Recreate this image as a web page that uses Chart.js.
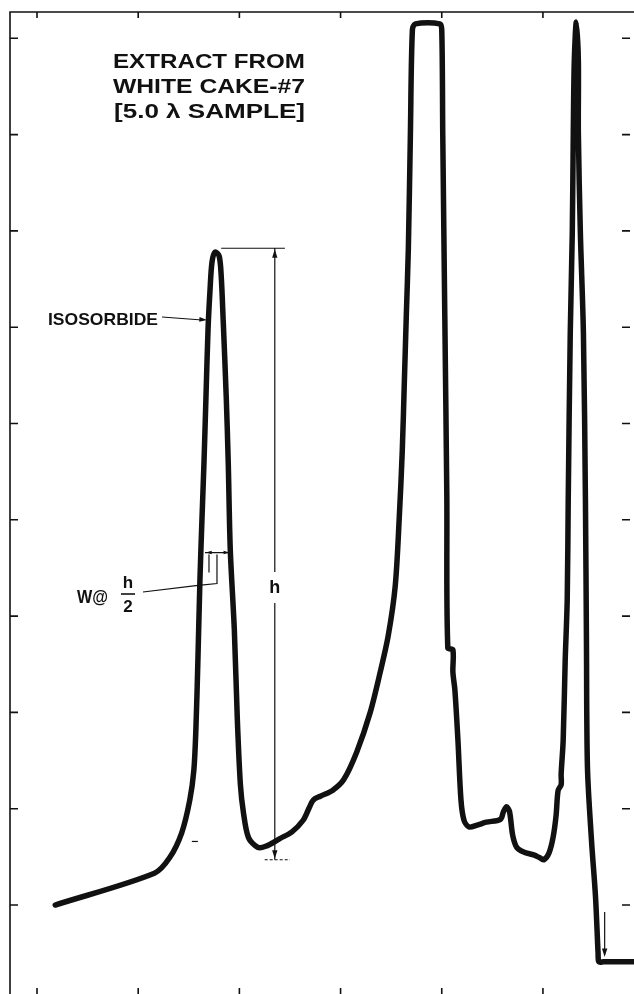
<!DOCTYPE html>
<html>
<head>
<meta charset="utf-8">
<script src="https://cdn.jsdelivr.net/npm/chart.js@4"></script>
<style>
  html, body { margin:0; padding:0; background:#fff; }
  canvas { display:block; }
</style>
</head>
<body>
<canvas id="chromo" width="634" height="994"></canvas>
<script>
/* ── strip-chart trace, in chart divisions ── */
const timeDiv = [
  0.18, 1.16, 1.31, 1.43, 1.51, 1.55, 1.57, 1.59, 1.61, 1.63, 1.65, 1.67, 1.69, 1.71, 1.73, 1.76,
  1.80, 1.82, 1.84, 1.87, 1.89, 1.91, 1.95, 1.98, 2.01, 2.04, 2.09, 2.18, 2.26, 2.40, 2.52, 2.63,
  2.69, 2.73, 2.80, 2.92, 3.03, 3.16, 3.29, 3.39, 3.47, 3.54, 3.58, 3.61, 3.63, 3.65, 3.67, 3.69,
  3.71, 3.74, 3.98, 4.00, 4.01, 4.03, 4.05, 4.06, 4.11, 4.11, 4.13, 4.16, 4.19, 4.22, 4.27, 4.35,
  4.44, 4.58, 4.61, 4.64, 4.67, 4.70, 4.74, 4.81, 4.91, 4.97, 5.01, 5.06, 5.10, 5.13, 5.15, 5.18,
  5.18, 5.20, 5.22, 5.24, 5.25, 5.27, 5.29, 5.30, 5.31, 5.33, 5.35, 5.35, 5.37, 5.40, 5.42, 5.43,
  5.44, 5.48, 5.52, 5.545, 5.553, 5.60, 6.00
];
const signalDiv = [
  0.00, 0.33, 0.49, 0.75, 1.09, 1.40, 1.82, 2.54, 3.37, 4.00, 4.59, 5.28, 5.97, 6.39, 6.68, 6.78,
  6.74, 6.54, 6.07, 5.28, 4.59, 3.69, 2.86, 1.92, 1.25, 0.96, 0.70, 0.60, 0.61, 0.69, 0.76, 0.88,
  1.01, 1.09, 1.13, 1.19, 1.30, 1.59, 1.99, 2.41, 2.79, 3.31, 4.02, 4.72, 5.42, 6.13, 6.82, 8.00,
  9.09, 9.15, 9.15, 9.09, 8.00, 6.13, 4.26, 2.67, 2.65, 2.42, 2.23, 1.71, 1.09, 0.88, 0.81, 0.83,
  0.86, 0.89, 0.97, 1.02, 0.97, 0.73, 0.60, 0.55, 0.52, 0.49, 0.47, 0.54, 0.70, 0.93, 1.19, 1.25,
  1.36, 1.71, 2.54, 3.17, 4.21, 5.94, 6.98, 8.02, 8.77, 9.17, 8.77, 8.02, 6.98, 5.94, 4.21, 2.75,
  1.43, 0.67, 0.08, -0.50, -0.59, -0.59, -0.59
];
const xTicks = [0, 1, 2, 3, 4, 5];
const yTicks = [0, 1, 2, 3, 4, 5, 6, 7, 8, 9];

const titleLines = ['EXTRACT FROM', 'WHITE CAKE-#7', '[5.0 λ SAMPLE]'];
const peakName   = 'ISOSORBIDE';

const INK = '#111';

/* h / w@h/2 construction on the isosorbide peak (chart divisions) */
const hX = 2.35, hTop = 6.82, hBase = 0.47;
const wY = 3.66, wLeft = 1.66, wRight = 1.91;

// squeeze / stretch a string to a given width
function fitText (ctx, s, left, right, base, font) {
  ctx.font = font;
  const w = ctx.measureText(s).width;
  ctx.save();
  ctx.translate(left, base);
  ctx.scale((right - left) / w, 1);
  ctx.fillText(s, 0, 0);
  ctx.restore();
}

function arrowHead (ctx, x, y, dx, dy, size) {
  const a = Math.atan2(dy, dx);
  ctx.beginPath();
  ctx.moveTo(x, y);
  ctx.lineTo(x - size * Math.cos(a - 0.3), y - size * Math.sin(a - 0.3));
  ctx.lineTo(x - size * Math.cos(a + 0.3), y - size * Math.sin(a + 0.3));
  ctx.closePath();
  ctx.fill();
}

const frame = {
  id: 'frame',
  afterDatasetsDraw (chart) {
    const { ctx, chartArea: a, scales: { x, y } } = chart;
    const px = v => x.getPixelForValue(v);
    const py = v => y.getPixelForValue(v);

    ctx.save();
    ctx.strokeStyle = INK;
    ctx.fillStyle = INK;
    ctx.lineCap = 'butt';

    /* axes + tick marks */
    ctx.lineWidth = 1.6;
    ctx.beginPath();
    ctx.moveTo(a.left, a.bottom); ctx.lineTo(a.left, a.top); ctx.lineTo(a.right, a.top);
    xTicks.forEach(v => {
      const p = px(v);
      ctx.moveTo(p, a.top); ctx.lineTo(p, a.top + 6);
      ctx.moveTo(p, a.bottom); ctx.lineTo(p, a.bottom - 6);
    });
    yTicks.forEach(v => {
      const p = py(v);
      ctx.moveTo(a.left, p); ctx.lineTo(a.left + 8, p);
      ctx.moveTo(a.right - 12, p); ctx.lineTo(a.right - 4, p);
    });
    ctx.stroke();

    /* h : peak height */
    const hx = px(hX), ht = py(hTop), hb = py(hBase);
    const hLabelBase = 593;
    ctx.lineWidth = 1.2;
    ctx.beginPath();
    ctx.moveTo(px(1.82), ht); ctx.lineTo(px(2.45), ht);
    ctx.moveTo(hx, ht); ctx.lineTo(hx, hLabelBase - 21);
    ctx.moveTo(hx, hLabelBase + 10); ctx.lineTo(hx, hb);
    ctx.stroke();
    arrowHead(ctx, hx, ht + 1, 0, -1, 9);
    arrowHead(ctx, hx, hb - 1, 0, 1, 9);
    ctx.setLineDash([3, 2]);
    ctx.beginPath();
    ctx.moveTo(px(2.25), hb); ctx.lineTo(px(2.50), hb);
    ctx.stroke();
    ctx.setLineDash([]);
    ctx.beginPath();
    ctx.moveTo(px(1.53), py(0.66)); ctx.lineTo(px(1.59), py(0.66));
    ctx.stroke();
    ctx.textAlign = 'center';
    ctx.font = 'bold 18px "Liberation Sans"';
    ctx.fillText('h', hx, hLabelBase);

    /* w @ h/2 */
    const wy = py(wY), wl = px(wLeft), wr = px(wRight);
    ctx.beginPath();
    ctx.moveTo(wl, wy); ctx.lineTo(wr, wy);
    ctx.moveTo(wl + 4, wy + 2); ctx.lineTo(wl + 4, wy + 20);
    ctx.moveTo(wl + 12, wy + 2); ctx.lineTo(wl + 12, wy + 31);
    ctx.lineTo(wl - 9, wy + 33);
    ctx.lineTo(143, 592);
    ctx.stroke();
    arrowHead(ctx, wl + 1, wy, -1, 0, 6);
    arrowHead(ctx, wr - 1, wy, 1, 0, 6);

    ctx.textAlign = 'left';
    fitText(ctx, 'W@', 77, 108, 603, 'bold 19px "Liberation Sans"');
    ctx.textAlign = 'center';
    ctx.font = 'bold 17px "Liberation Sans"';
    ctx.fillText('h', 128, 588);
    ctx.fillText('2', 128, 612);
    ctx.lineWidth = 1.6;
    ctx.beginPath();
    ctx.moveTo(121, 594); ctx.lineTo(135, 594);
    ctx.stroke();

    /* peak name + arrow */
    ctx.textAlign = 'left';
    fitText(ctx, peakName, 48, 158, 325, 'bold 17px "Liberation Sans"');
    ctx.lineWidth = 1.2;
    ctx.beginPath();
    ctx.moveTo(162, 317); ctx.lineTo(202, 320);
    ctx.stroke();
    arrowHead(ctx, 207, 320, 1, 0.07, 8);

    /* sample title */
    fitText(ctx, titleLines[0], 113, 305, 68, 'bold 20px "Liberation Sans"');
    fitText(ctx, titleLines[1], 113, 305, 93, 'bold 20px "Liberation Sans"');
    fitText(ctx, titleLines[2], 114, 305, 118, 'bold 20px "Liberation Sans"');

    /* end marker */
    ctx.lineWidth = 1.2;
    ctx.beginPath();
    ctx.moveTo(px(5.61), 912); ctx.lineTo(px(5.61), 950);
    ctx.stroke();
    arrowHead(ctx, px(5.61), 957, 0, 1, 9);

    ctx.restore();
  }
};

new Chart(document.getElementById('chromo'), {
  type: 'line',
  data: {
    datasets: [{
      data: timeDiv.map((t, i) => ({ x: t, y: signalDiv[i] })),
      borderColor: INK,
      borderWidth: 5.5,
      borderJoinStyle: 'round',
      borderCapStyle: 'round',
      pointRadius: 0,
      tension: 0.3,
      fill: false
    }]
  },
  options: {
    responsive: false,
    animation: false,
    layout: { padding: { left: 10, top: 12, right: 0, bottom: 0 } },
    plugins: { legend: { display: false }, tooltip: { enabled: false } },
    scales: {
      x: { type: 'linear', min: -0.267, max: 5.9, display: false },
      y: { type: 'linear', min: -0.924, max: 9.273, display: false }
    }
  },
  plugins: [frame]
});
</script>
</body>
</html>
